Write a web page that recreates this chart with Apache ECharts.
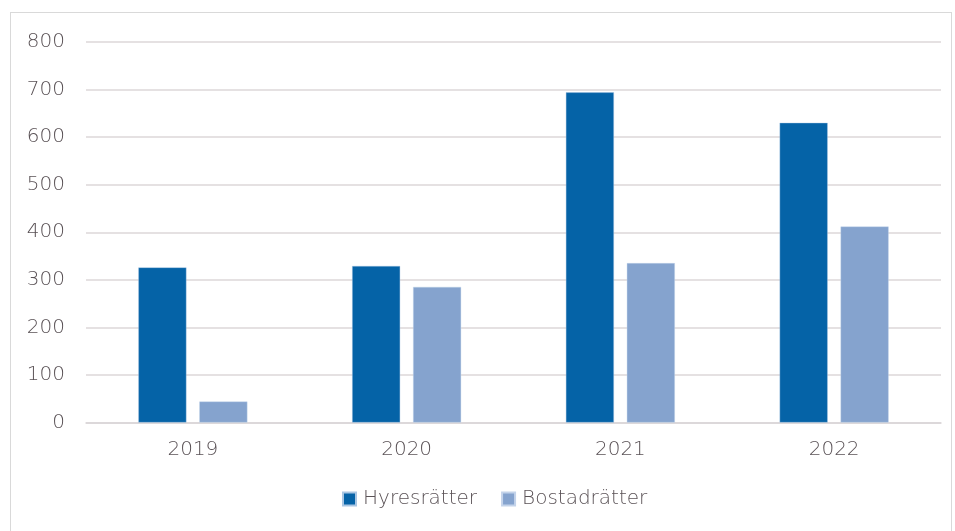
<!DOCTYPE html>
<html>
<head>
<meta charset="utf-8">
<script src="https://cdn.jsdelivr.net/npm/echarts@6/dist/echarts.min.js"></script>
<style>
  html, body { margin: 0; padding: 0; background: #fff; }
  #frame { position: absolute; left: 10px; top: 12px; width: 942px; height: 530px; border: 1px solid #d9d9d9; box-sizing: border-box; }
  #chart { position: absolute; left: 0; top: 0; width: 955px; height: 531px; }
</style>
</head>
<body>
<div id="frame"></div>
<div id="chart"></div>
<script>
const years = ['2019', '2020', '2021', '2022'];
const hyresratter = [326, 329, 694, 630];
const bostadratter = [44, 285, 335, 412];
const yTicks = { min: 0, max: 800, interval: 100 };

const textColor = '#5a5256';
const font = '"DejaVu Sans", sans-serif';
const weight = 300;

const chart = echarts.init(document.getElementById('chart'), null, { renderer: 'canvas' });
chart.setOption({
  backgroundColor: 'transparent',
  animation: false,
  grid: { left: 86, right: 14, top: 42, bottom: 108.5 },
  legend: {
    bottom: 17,
    left: 337,
    itemWidth: 13,
    itemHeight: 13,
    itemGap: 24,
    icon: 'rect',
    textStyle: { color: textColor, fontSize: 20, fontFamily: font, fontWeight: weight, padding: [0, 0, 0, 2] },
    data: ['Hyresrätter', 'Bostadrätter']
  },
  xAxis: {
    type: 'category',
    data: years,
    axisLine: { lineStyle: { color: '#d9d5d7', width: 1.5 } },
    axisTick: { show: false },
    axisLabel: { color: textColor, fontSize: 20, fontFamily: font, fontWeight: weight, margin: 17 }
  },
  yAxis: {
    type: 'value',
    min: yTicks.min,
    max: yTicks.max,
    interval: yTicks.interval,
    axisLine: { show: false },
    axisTick: { show: false },
    splitLine: { lineStyle: { color: '#dcd7d9', width: 1.5 } },
    axisLabel: { color: textColor, fontSize: 20, fontFamily: font, fontWeight: weight, margin: 21 }
  },
  series: [
    {
      name: 'Hyresrätter',
      type: 'bar',
      data: hyresratter,
      barWidth: 48,
      barGap: '27%',
      itemStyle: { color: '#0563a7', borderColor: '#a9c6e3', borderWidth: 0.4 }
    },
    {
      name: 'Bostadrätter',
      type: 'bar',
      data: bostadratter,
      barWidth: 48,
      barGap: '27%',
      itemStyle: { color: '#85a3ce', borderColor: '#c3d3ea', borderWidth: 0.4 }
    }
  ]
});
</script>
</body>
</html>
